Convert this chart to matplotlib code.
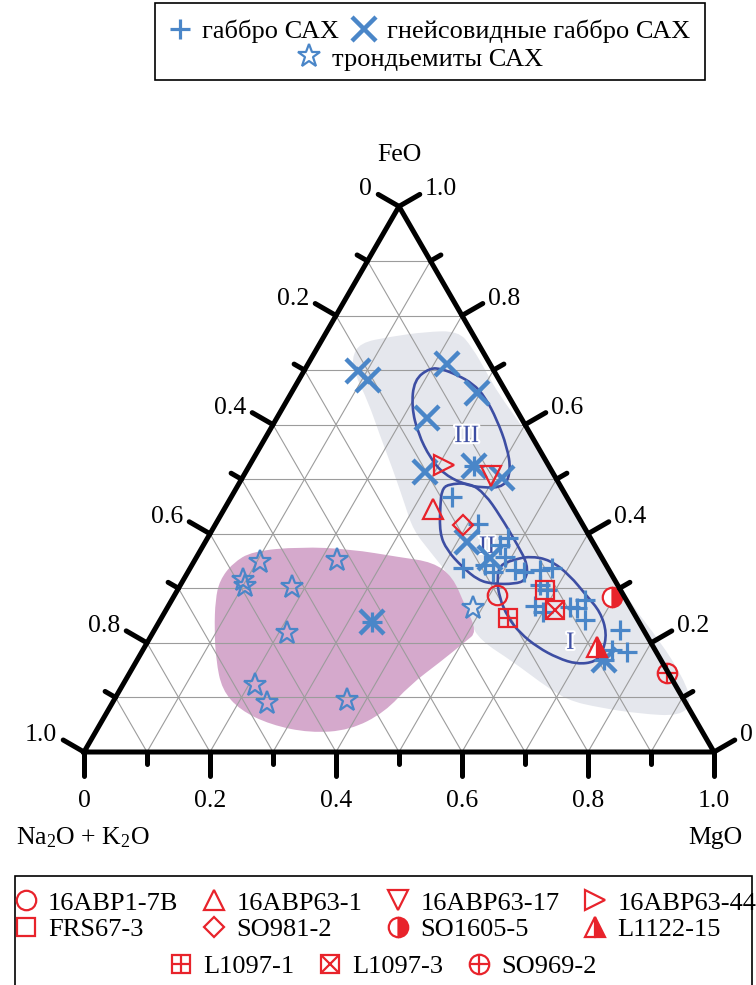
import numpy as np
import matplotlib
matplotlib.use('Agg')
import matplotlib.pyplot as plt
from matplotlib.lines import Line2D
from matplotlib.patches import PathPatch, Rectangle
from matplotlib.path import Path
import matplotlib.patheffects as pe

plt.rcParams['font.family'] = ['Liberation Serif', 'DejaVu Serif']
plt.rcParams['mathtext.fontset'] = 'custom'
plt.rcParams['mathtext.rm'] = 'Liberation Serif'
plt.rcParams['mathtext.it'] = 'Liberation Serif:italic'

BLUE = '#4a86c8'
RED = '#e8232b'
DARKBLUE = '#3d4ea3'
GRID = '#9c9c9c'

# compositions as fractions: FeO, MgO (Na2O+K2O is the rest)
gabbro_feo = [0.467, 0.418, 0.379, 0.392, 0.337, 0.343, 0.330, 0.334, 0.330, 0.334, 0.337, 0.297, 0.306,
              0.268, 0.257, 0.266, 0.264, 0.279, 0.242, 0.224, 0.187, 0.183, 0.357, 0.524, 0.238, 0.169]
gabbro_mgo = [0.350, 0.417, 0.471, 0.477, 0.433, 0.465, 0.484, 0.517, 0.533, 0.557, 0.574, 0.586, 0.571,
              0.582, 0.600, 0.638, 0.651, 0.656, 0.674, 0.739, 0.745, 0.770, 0.490, 0.357, 0.338, 0.741]

gneiss_feo = [0.698, 0.682, 0.711, 0.658, 0.612, 0.513, 0.502, 0.385, 0.356, 0.169, 0.524, 0.238]
gneiss_mgo = [0.086, 0.110, 0.221, 0.295, 0.238, 0.285, 0.412, 0.415, 0.467, 0.741, 0.357, 0.338]

tron_feo = [0.348, 0.352, 0.315, 0.304, 0.302, 0.218, 0.123, 0.090, 0.095, 0.264]
tron_mgo = [0.105, 0.226, 0.095, 0.104, 0.179, 0.213, 0.210, 0.246, 0.370, 0.486]

sample_names = ['16ABP1-7B', '16ABP63-1', '16ABP63-17', '16ABP63-44', 'FRS67-3', 'SO981-2',
                'SO1605-5', 'L1122-15', 'L1097-1', 'L1097-3', 'SO969-2']
sample_feo = [0.288, 0.445, 0.506, 0.526, 0.297, 0.416, 0.284, 0.192, 0.246, 0.260, 0.145]
sample_mgo = [0.512, 0.331, 0.393, 0.308, 0.583, 0.394, 0.696, 0.718, 0.550, 0.618, 0.853]

# fields
gray_feo = [0.722, 0.750, 0.761, 0.770, 0.772, 0.741, 0.697, 0.658, 0.590, 0.517, 0.434, 0.352, 0.269,
            0.202, 0.136, 0.090, 0.066, 0.070, 0.081, 0.095, 0.128, 0.165, 0.205, 0.238, 0.282, 0.321,
            0.367, 0.407, 0.453, 0.517, 0.581, 0.642, 0.691]
gray_mgo = [0.064, 0.063, 0.105, 0.156, 0.208, 0.246, 0.290, 0.328, 0.405, 0.485, 0.570, 0.651, 0.735,
            0.814, 0.883, 0.920, 0.913, 0.848, 0.779, 0.719, 0.660, 0.599, 0.526, 0.494, 0.459, 0.421,
            0.366, 0.319, 0.283, 0.232, 0.179, 0.130, 0.085]
pink_feo = [0.279, 0.315, 0.346, 0.368, 0.376, 0.372, 0.357, 0.348, 0.321, 0.269, 0.220, 0.202, 0.165,
            0.123, 0.073, 0.040, 0.035, 0.050, 0.077, 0.114, 0.169, 0.224]
pink_mgo = [0.069, 0.058, 0.063, 0.083, 0.155, 0.236, 0.323, 0.380, 0.425, 0.470, 0.514, 0.504, 0.483,
            0.456, 0.441, 0.402, 0.341, 0.271, 0.209, 0.162, 0.125, 0.095]

# contours I, II, III
c1_feo = [0.343, 0.352, 0.359, 0.352, 0.324, 0.286, 0.257, 0.218, 0.183, 0.165, 0.161, 0.172, 0.192,
          0.218, 0.247, 0.284, 0.319]
c1_mgo = [0.489, 0.505, 0.528, 0.564, 0.609, 0.655, 0.691, 0.721, 0.732, 0.729, 0.702, 0.666, 0.624,
          0.583, 0.549, 0.517, 0.496]
c2_feo = [0.491, 0.493, 0.473, 0.434, 0.379, 0.343, 0.315, 0.308, 0.308, 0.315, 0.339, 0.370, 0.401,
          0.453, 0.480]
c2_mgo = [0.332, 0.366, 0.400, 0.443, 0.499, 0.533, 0.544, 0.530, 0.495, 0.468, 0.431, 0.391, 0.364,
          0.339, 0.328]
c3_feo = [0.704, 0.702, 0.691, 0.675, 0.651, 0.609, 0.559, 0.517, 0.486, 0.484, 0.491, 0.511, 0.539,
          0.583, 0.632, 0.682]
c3_mgo = [0.197, 0.217, 0.247, 0.280, 0.311, 0.351, 0.392, 0.419, 0.425, 0.391, 0.356, 0.314, 0.280,
          0.239, 0.204, 0.183]
contour_names = ['I', 'II', 'III']
contour_label_feo = [0.200, 0.376, 0.579]
contour_label_mgo = [0.672, 0.452, 0.318]

ticks = [i / 10 for i in range(11)]


def tern(feo, mgo):
    feo = np.asarray(feo, dtype=float)
    mgo = np.asarray(mgo, dtype=float)
    return mgo + feo / 2, feo * np.sqrt(3) / 2


def smooth_path(x, y):
    pts = np.column_stack([x, y])
    mids = (pts + np.roll(pts, -1, axis=0)) / 2
    verts = [mids[-1]]
    codes = [Path.MOVETO]
    for i in range(len(pts)):
        verts += [pts[i], mids[i]]
        codes += [Path.CURVE3, Path.CURVE3]
    return Path(verts, codes)


PX = 630.0  # pixels per side length
fig = plt.figure(figsize=(7.56, 9.85), dpi=100)
ax = fig.add_axes([0, 0, 1, 1])
ax.set_xlim(-84 / PX, (756 - 84) / PX)
ax.set_ylim(-(985 - 752) / PX, 752 / PX)
ax.set_aspect('equal')
ax.axis('off')

# fields
ax.add_patch(PathPatch(smooth_path(*tern(gray_feo, gray_mgo)), fc='#e5e7ed', ec='none', zorder=1))
ax.add_patch(PathPatch(smooth_path(*tern(pink_feo, pink_mgo)), fc='#d5a9cc', ec='none', zorder=1))

# grid
for t in ticks[1:-1]:
    ax.plot(*tern([0, 1 - t], [t, t]), color=GRID, lw=0.8, zorder=2)
    ax.plot(*tern([t, t], [0, 1 - t]), color=GRID, lw=0.8, zorder=2)
    ax.plot(*tern([1 - t, 0], [0, 1 - t]), color=GRID, lw=0.8, zorder=2)

# contours
for cf, cm in [(c1_feo, c1_mgo), (c2_feo, c2_mgo), (c3_feo, c3_mgo)]:
    ax.add_patch(PathPatch(smooth_path(*tern(cf, cm)), fc='none', ec=DARKBLUE, lw=1.9, zorder=3))
for name, lf, lm in zip(contour_names, contour_label_feo, contour_label_mgo):
    lx, ly = tern(lf, lm)
    ax.text(lx, ly, name, fontsize=18, color=DARKBLUE, ha='center', va='center', zorder=3.5,
            path_effects=[pe.withStroke(linewidth=3, foreground='white')])

# points
gab_kw = dict(ls='none', marker='+', ms=15, mew=2.3, color=BLUE)
gn_kw = dict(ls='none', marker='x', ms=17, mew=3.2, color=BLUE)
tr_kw = dict(ls='none', marker='*', ms=17, mfc='none', mec=BLUE, mew=1.6)
ax.plot(*tern(gabbro_feo, gabbro_mgo), zorder=4, **gab_kw)
ax.plot(*tern(gneiss_feo, gneiss_mgo), zorder=4, **gn_kw)
ax.plot(*tern(tron_feo, tron_mgo), zorder=4, **tr_kw)

base = dict(ls='none', ms=14, mew=1.6, mec=RED, mfc='none', color=RED)
half = dict(mfc=RED, markerfacecoloralt='white', fillstyle='right')
sample_styles = [
    [dict(marker='o')],
    [dict(marker='^')],
    [dict(marker='v')],
    [dict(marker='>')],
    [dict(marker='s', ms=13)],
    [dict(marker='D', ms=10)],
    [dict(marker='o', **half)],
    [dict(marker='^', **half)],
    [dict(marker='s', ms=13), dict(marker='+', ms=13)],
    [dict(marker='s', ms=13), dict(marker='x', ms=13)],
    [dict(marker='o'), dict(marker='+')],
]
sample_handles = []
for name, sf, sm, styles in zip(sample_names, sample_feo, sample_mgo, sample_styles):
    parts = []
    for st in styles:
        kw = dict(base)
        kw.update(st)
        ax.plot(*tern([sf], [sm]), zorder=5, **kw)
        parts.append(Line2D([], [], **kw))
    sample_handles.append(tuple(parts))

# triangle frame and ticks
ax.plot(*tern([0, 0, 1, 0], [0, 1, 0, 0]), color='black', lw=3.6, solid_joinstyle='round', zorder=6)
LONG, SHORT = 24 / PX, 12 / PX
nl = np.array([-np.sqrt(3) / 2, 0.5])
nr = np.array([np.sqrt(3) / 2, 0.5])
nb = np.array([0.0, -1.0])
for i, t in enumerate(ticks):
    L = LONG if i % 2 == 0 else SHORT
    lab = '0' if i == 0 else ('1.0' if i == 10 else f'{t:.1f}')
    # bottom: MgO
    bx, by = tern(0, t)
    ax.plot([bx, bx + nb[0] * L], [by, by + nb[1] * L], color='black', lw=3.6,
            solid_capstyle='round', zorder=6)
    # left: Na2O+K2O
    lx, ly = tern(1 - t, 0)
    ax.plot([lx, lx + nl[0] * L], [ly, ly + nl[1] * L], color='black', lw=3.6,
            solid_capstyle='round', zorder=6)
    # right: FeO
    rx, ry = tern(t, 1 - t)
    ax.plot([rx, rx + nr[0] * L], [ry, ry + nr[1] * L], color='black', lw=3.6,
            solid_capstyle='round', zorder=6)
    if i % 2 == 0:
        ax.text(bx, by - 49 / PX, lab, fontsize=18.5, ha='center', va='center')
        ax.text(lx + nl[0] * L - 6 / PX, ly + nl[1] * L + 5 / PX, lab, fontsize=18.5,
                ha='right', va='center')
        ax.text(rx + nr[0] * L + 5 / PX, ry + nr[1] * L + 5 / PX, lab, fontsize=18.5,
                ha='left', va='center')

tx, ty = tern(1, 0)
ax.text(tx, ty + 51 / PX, 'FeO', fontsize=18.5, ha='center', va='center')
ax.text(-1 / PX, -86 / PX, r'Na$_2$O + K$_2$O', fontsize=18.5, ha='center', va='center')
ax.text(631 / PX, -86 / PX, 'MgO', fontsize=18.5, ha='center', va='center')

# top legend
h_gab = Line2D([], [], **gab_kw)
h_gn = Line2D([], [], **gn_kw)
h_tr = Line2D([], [], **tr_kw)
leg_kw = dict(loc='center', frameon=False, fontsize=19, handlelength=0.9, handletextpad=0.4,
              borderpad=0, borderaxespad=0)
fig.legend([h_gab, h_gn], ['габбро САХ', 'гнейсовидные габбро САХ'], ncol=2, columnspacing=0.5,
           bbox_to_anchor=(429 / 756, 1 - 31 / 985), **leg_kw)
fig.legend([h_tr], ['трондьемиты САХ'], bbox_to_anchor=(420 / 756, 1 - 59 / 985), **leg_kw)
fig.add_artist(Rectangle((155 / 756, 1 - 80 / 985), 550 / 756, 77 / 985, fill=False, lw=1.2,
                         ec='black', transform=fig.transFigure))

# bottom legend (column-wise order for the first two rows)
order = [0, 4, 1, 5, 2, 6, 3, 7]
fig.legend([sample_handles[k] for k in order], [sample_names[k] for k in order], ncol=4,
           columnspacing=0.9, labelspacing=0.1, bbox_to_anchor=(385 / 756, 1 - 916 / 985), **leg_kw)
fig.legend(sample_handles[8:], sample_names[8:], ncol=3, columnspacing=0.9,
           bbox_to_anchor=(383 / 756, 1 - 966 / 985), **leg_kw)
fig.add_artist(Rectangle((15 / 756, -0.01), 737 / 756, (985 - 876) / 985 + 0.01, fill=False, lw=1.2,
                         ec='black', transform=fig.transFigure))

fig.savefig('out.png', dpi=100)
